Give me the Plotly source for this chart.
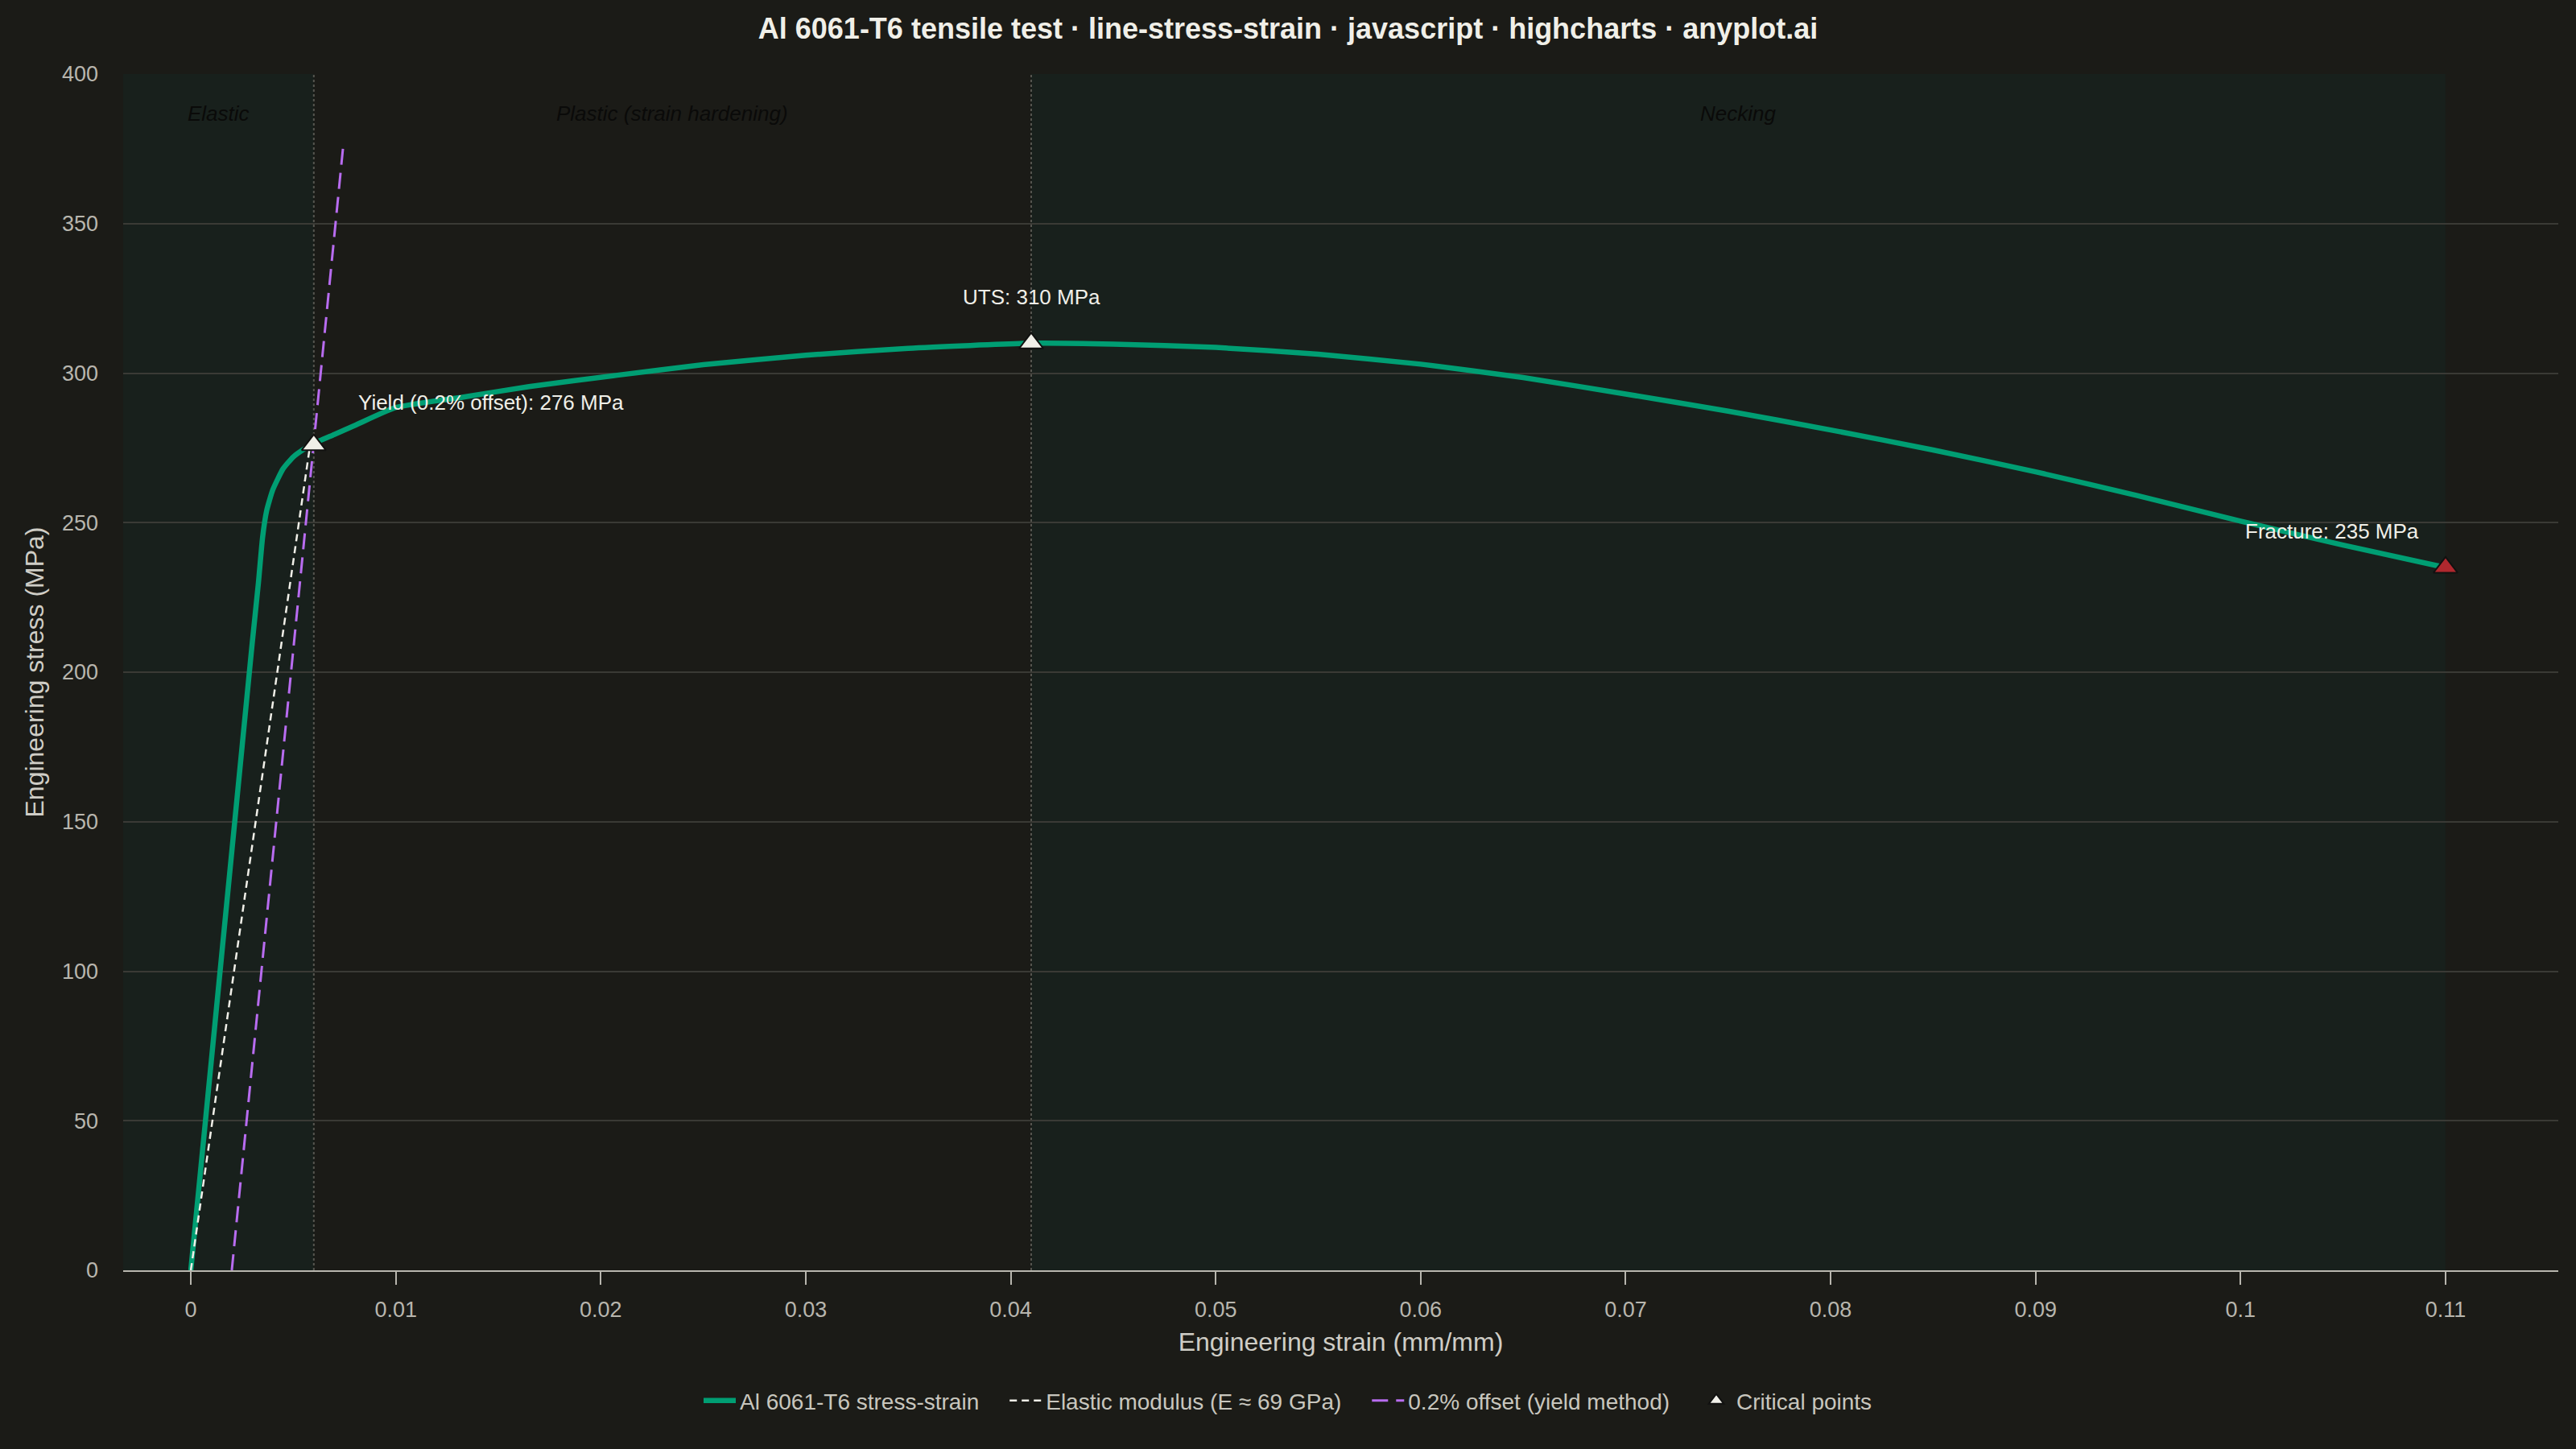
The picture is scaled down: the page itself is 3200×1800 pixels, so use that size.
import plotly.graph_objects as go

# stress-strain curve
strain = [0, 0.0005, 0.001, 0.0015, 0.002, 0.0025, 0.003, 0.0033, 0.0035, 0.0037,
          0.004, 0.0045, 0.005, 0.0055, 0.006, 0.007, 0.008, 0.01, 0.0133, 0.0165,
          0.0208, 0.025, 0.03, 0.035, 0.041, 0.045, 0.05, 0.055, 0.06, 0.065,
          0.07, 0.075, 0.08, 0.085, 0.09, 0.095, 0.1, 0.105, 0.11]
stress = [0, 35, 70, 105, 140, 175, 210, 230, 245, 254,
          261, 268, 272, 274.5, 276.5, 279.5, 282.5, 288.5, 292, 295.5,
          299.3, 302.8, 306, 308.3, 310, 309.7, 308.6, 306.3, 303, 298.5,
          293, 287.3, 281, 274.3, 267, 259, 250.5, 242.5, 235]

elastic_x = [0, 0.0058]
elastic_y = [0, 275]
offset_x = [0.002, 0.00745]
offset_y = [0, 377]

crit_x = [0.006, 0.041, 0.11]
crit_y = [276, 310, 235]
crit_labels = ["Yield (0.2% offset): 276 MPa", "UTS: 310 MPa", "Fracture: 235 MPa"]

region_edges = [0.006, 0.041, 0.11]
region_names = ["Elastic", "Plastic (strain hardening)", "Necking"]

x_ticks = [0, 0.01, 0.02, 0.03, 0.04, 0.05, 0.06, 0.07, 0.08, 0.09, 0.1, 0.11]
x_range = [-0.0033, 0.1155]

BG = "#1b1b17"
BAND = "#18201c"
FONT = "Liberation Sans, Arial, sans-serif"
PAD = "\u2003"  # a bit of room between legend items
W, H = 3200, 1800
ML, MR = 153, 22

fig = go.Figure()

fig.add_trace(go.Scatter(x=strain, y=stress, mode="lines", name="Al 6061-T6 stress-strain" + PAD,
                         line=dict(color="#009e73", width=6.5, shape="spline", smoothing=0.5)))
fig.add_trace(go.Scatter(x=elastic_x, y=elastic_y, mode="lines", name="Elastic modulus (E ≈ 69 GPa)" + PAD,
                         line=dict(color="#f0efe8", width=2.5, dash="9px,6px")))
fig.add_trace(go.Scatter(x=offset_x, y=offset_y, mode="lines", name="0.2% offset (yield method)" + PAD,
                         line=dict(color="#b86cf0", width=3, dash="20px,10px")))
fig.add_trace(go.Scatter(x=crit_x, y=crit_y, mode="markers", name="Critical points",
                         marker=dict(symbol="triangle-up", size=26,
                                     color=["#f0efe8", "#f0efe8", "#b0282e"],
                                     line=dict(color="#111110", width=2))))

# shaded regions and their boundaries
band_starts = [x_range[0], region_edges[0], region_edges[1]]
band_ends = region_edges
for i, (a, b) in enumerate(zip(band_starts, band_ends)):
    if i != 1:
        fig.add_shape(type="rect", xref="x", yref="paper", x0=a, x1=b, y0=0, y1=1,
                      fillcolor=BAND, line_width=0, layer="below")
    fig.add_annotation(x=(a + b) / 2, y=1, xref="x", yref="paper", yshift=-49,
                       text="<i>" + region_names[i] + "</i>", showarrow=False,
                       yanchor="middle", font=dict(size=26, color="#0a0a09", family=FONT))
for e in region_edges[:2]:
    fig.add_shape(type="line", xref="x", yref="paper", x0=e, x1=e, y0=0, y1=1,
                  line=dict(color="#55554f", width=2, dash="dot"), layer="below")

# point labels
shifts = [dict(xanchor="left", xshift=53, yshift=53),
          dict(xanchor="center", xshift=0, yshift=57),
          dict(xanchor="right", xshift=-31, yshift=45)]
for x, y, t, s in zip(crit_x, crit_y, crit_labels, shifts):
    fig.add_annotation(x=x, y=y, text=t, showarrow=False, yanchor="middle",
                       font=dict(size=26, color="#f0efe8", family=FONT), **s)

fig.update_layout(
    width=W, height=H,
    paper_bgcolor=BG, plot_bgcolor=BG,
    margin=dict(l=ML, r=MR, t=92, b=222),
    font=dict(family=FONT, size=27, color="#b8b6ae"),
    title=dict(text="<b>Al 6061-T6 tensile test · line-stress-strain · javascript · highcharts · anyplot.ai</b>",
               x=0.5, xanchor="center", y=1 - 35 / H, yanchor="middle",
               font=dict(size=36, color="#f0efe8")),
    # legend centred on the whole page, not on the plot area
    legend=dict(orientation="h", x=(W / 2 - ML) / (W - ML - MR), xanchor="center",
                y=-0.109, yanchor="middle",
                font=dict(size=28, color="#c8c6be"), bgcolor="rgba(0,0,0,0)",
                itemwidth=40),
    showlegend=True,
)
fig.update_xaxes(range=x_range, tickvals=x_ticks, ticktext=[f"{v:g}" for v in x_ticks],
                 showgrid=False, zeroline=False, showline=True, linecolor="#b8b6ae", linewidth=2,
                 ticks="outside", ticklen=16, tickcolor="#b8b6ae", tickwidth=2, ticklabelstandoff=8,
                 tickfont=dict(size=27, color="#b8b6ae"),
                 title=dict(text="Engineering strain (mm/mm)", font=dict(size=32, color="#cfcdc6"), standoff=14))
fig.update_yaxes(range=[0, 400], dtick=50, showgrid=True, gridcolor="#3a3a35", gridwidth=2,
                 zeroline=False, showline=False, ticks="", ticklabelstandoff=30,
                 tickfont=dict(size=27, color="#b8b6ae"),
                 title=dict(text="Engineering stress (MPa)", font=dict(size=32, color="#cfcdc6"), standoff=12))

fig.write_html("out.html", config={"displayModeBar": False},
               post_script="document.body.style.margin='0';document.body.style.background='#1b1b17';")
